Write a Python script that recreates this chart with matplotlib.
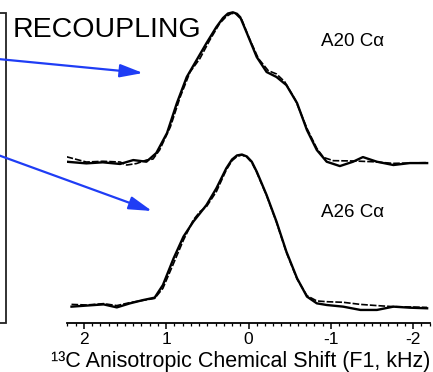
import matplotlib.pyplot as plt
from matplotlib.patches import Rectangle

plt.rcParams['font.family'] = ['Liberation Sans', 'DejaVu Sans']

# A20 Ca (upper trace), shift in kHz and normalised intensity
a20_x = [2.21, 1.97, 1.77, 1.56, 1.40, 1.24, 1.12, 0.99, 0.87, 0.75, 0.63, 0.51, 0.39, 0.31,
         0.25, 0.19, 0.14, 0.10, 0.02, -0.10, -0.22, -0.34, -0.46, -0.59, -0.71, -0.83, -0.95,
         -1.11, -1.27, -1.39, -1.56, -1.76, -1.96, -2.17]
a20_y = [0.002, -0.009, -0.002, -0.013, 0.013, 0.002, 0.06, 0.193, 0.393, 0.567, 0.68, 0.793,
         0.90, 0.96, 0.99, 0.998, 0.988, 0.965, 0.86, 0.70, 0.60, 0.567, 0.513, 0.393, 0.213,
         0.08, 0.002, -0.027, 0.002, 0.033, 0.002, -0.02, -0.007, -0.007]
a20_x2 = [2.21, 1.97, 1.77, 1.56, 1.48, 1.36, 1.24, 1.16, 1.08, 0.95, 0.83, 0.71, 0.59, 0.47,
          0.35, 0.27, 0.21, 0.16, 0.08, 0.00, -0.12, -0.24, -0.34, -0.44, -0.57, -0.71,
          -0.83, -0.91, -1.03, -1.27, -1.51, -1.76, -2.17]
a20_y2 = [0.035, 0.0, 0.005, 0.0, -0.02, -0.01, 0.013, 0.02, 0.08, 0.233, 0.433, 0.60, 0.69,
          0.813, 0.924, 0.97, 0.99, 0.99, 0.947, 0.836, 0.69, 0.609, 0.587, 0.535, 0.413,
          0.224, 0.091, 0.031, 0.009, 0.007, 0.002, -0.009, -0.004]

# A26 Ca (lower trace)
a26_x = [2.15, 1.97, 1.76, 1.60, 1.44, 1.28, 1.14, 1.04, 0.91, 0.79, 0.67, 0.59, 0.51, 0.39,
         0.27, 0.20, 0.14, 0.08, 0.02, -0.04, -0.10, -0.22, -0.34, -0.46, -0.59, -0.71,
         -0.83, -0.95, -1.15, -1.36, -1.56, -1.76, -1.96, -2.17]
a26_y = [-0.011, -0.004, 0.004, -0.016, 0.011, 0.033, 0.049, 0.133, 0.311, 0.456, 0.556, 0.611,
         0.667, 0.778, 0.911, 0.97, 0.997, 1.003, 0.99, 0.955, 0.889, 0.733, 0.556, 0.356,
         0.178, 0.056, 0.011, 0.0, -0.011, -0.033, -0.033, -0.011, -0.018, -0.022]
a26_y2 = [0.004, 0.0, 0.009, -0.004, 0.016, 0.031, 0.044, 0.111, 0.278, 0.433, 0.567, 0.622,
          0.656, 0.756, 0.90, 0.962, 0.99, 1.0, 0.985, 0.95, 0.884, 0.729, 0.551, 0.351,
          0.173, 0.062, 0.027, 0.022, 0.018, 0.004, -0.004, -0.011, -0.013, -0.016]

labels = ['A20 C\u03b1', 'A26 C\u03b1']
ticks = [2, 1, 0, -1, -2]

W, H = 433, 372
offset = 0.953

fig = plt.figure(figsize=(W / 100, H / 100), dpi=100)
ax = fig.add_axes([67.4 / W, 49 / H, 362.2 / W, 323 / H])

ax.plot(a20_x, [v + offset for v in a20_y], color='black', lw=1.7)
ax.plot(a20_x2, [v + offset for v in a20_y2], color='black', lw=1.2, ls=(0, (4, 1.2)))
ax.plot(a26_x, a26_y, color='black', lw=1.7)
ax.plot(a26_x, a26_y2, color='black', lw=1.2, ls=(0, (4, 1.2)))

ax.set_xlim(2.2, -2.2)
ax.set_ylim(-0.12, 2.033)
ax.set_xticks(ticks)
ax.set_xticklabels([str(t) for t in ticks])
ax.set_xticks([i / 10 for i in range(-22, 23)], minor=True)
ax.set_yticks([])
for s in ['left', 'right', 'top']:
    ax.spines[s].set_visible(False)
ax.spines['bottom'].set_linewidth(1.3)
ax.tick_params(axis='x', which='major', direction='out', length=4, width=1.1, labelsize=12.5, pad=2.5)
ax.tick_params(axis='x', which='minor', direction='out', length=2.5, width=0.9)


def fx(px):
    return px / W


def fy(py):
    return 1 - py / H


fig.text(fx(241), fy(367), '\u00b9\u00b3C Anisotropic Chemical Shift (F1, kHz)',
         ha='center', va='baseline', fontsize=15.5)
fig.text(fx(106.5), fy(37), 'RECOUPLING', ha='center', va='baseline', fontsize=20.5)
fig.text(fx(353), fy(46), labels[0], ha='center', va='baseline', fontsize=13.5)
fig.text(fx(353), fy(217), labels[1], ha='center', va='baseline', fontsize=13.5)

# partial box on the left edge
fig.add_artist(Rectangle((fx(-20), fy(323)), fx(26), 310 / H, transform=fig.transFigure,
                         fill=False, lw=1.3, ec='#222222', clip_on=False))

blue = '#1f3df5'
for start, end in [((-2, 59), (143, 73)), ((-2, 155), (152, 211))]:
    fig.add_artist(plt.Annotation('', xy=(fx(end[0]), fy(end[1])),
                                  xytext=(fx(start[0]), fy(start[1])),
                                  xycoords='figure fraction', textcoords='figure fraction',
                                  arrowprops=dict(arrowstyle='-|>,head_length=1.4,head_width=0.4',
                                                  color=blue, lw=1.6, shrinkA=0, shrinkB=0,
                                                  mutation_scale=10)))

fig.savefig('out.png', dpi=100)
